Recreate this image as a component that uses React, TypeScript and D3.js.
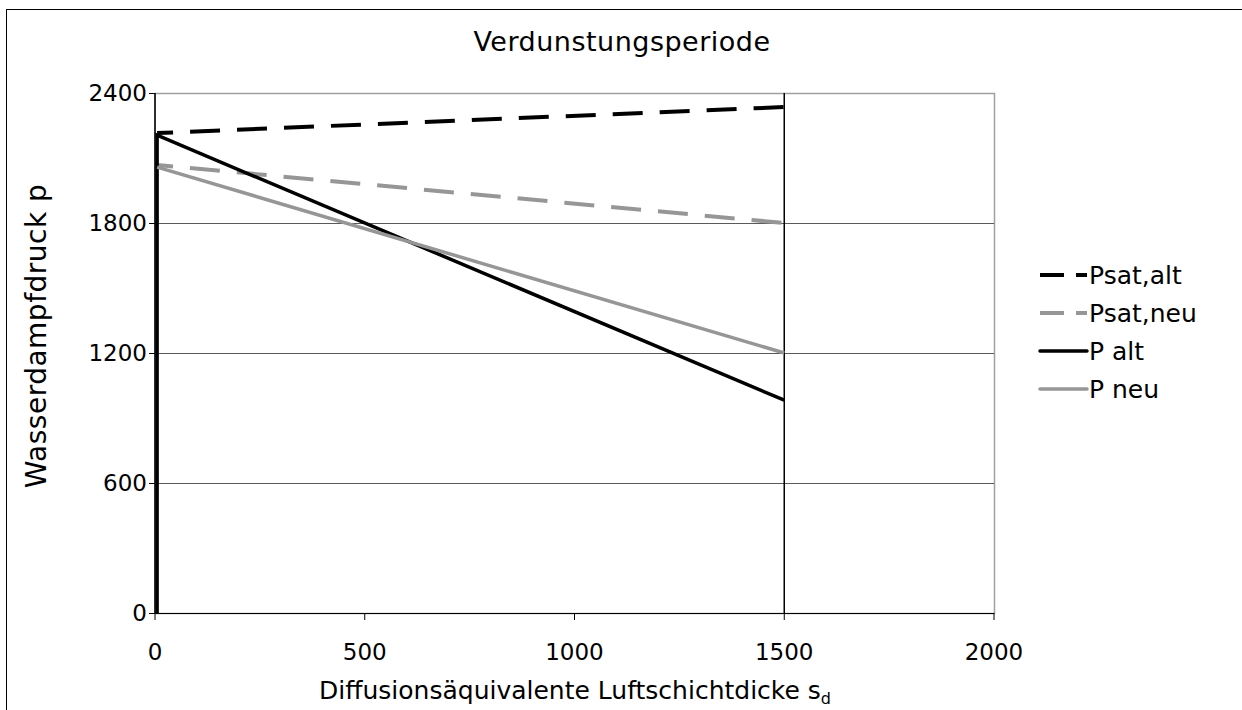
import React from "react";
import * as d3 from "d3";

// ---- data ----
const xTicks = [0, 500, 1000, 1500, 2000];
const yTicks = [0, 600, 1200, 1800, 2400];
const layerBoundary = [1500];

const psatAltX = [5, 1500];
const psatAltY = [2215, 2335];
const psatNeuX = [5, 1500];
const psatNeuY = [2068, 1800];
const pAltX = [5, 5, 1500];
const pAltY = [0, 2205, 982];
const pNeuX = [5, 1500];
const pNeuY = [2058, 1200];

const seriesNames = ["Psat,alt", "Psat,neu", "P alt", "P neu"];

const W = 1242;
const H = 710;
const FONT = "'DejaVu Sans', Verdana, sans-serif";

export default function App() {
  const x = d3.scaleLinear().domain([0, 2000]).range([155, 994]);
  const y = d3.scaleLinear().domain([0, 2400]).range([613, 93]);

  const series = [
    { name: seriesNames[0], xs: psatAltX, ys: psatAltY, color: "#000000", dash: "30 17", width: 4 },
    { name: seriesNames[1], xs: psatNeuX, ys: psatNeuY, color: "#969696", dash: "30 17", width: 4 },
    { name: seriesNames[2], xs: pAltX, ys: pAltY, color: "#000000", dash: undefined, width: 3.5 },
    { name: seriesNames[3], xs: pNeuX, ys: pNeuY, color: "#969696", dash: undefined, width: 3.5 },
  ];

  const line = d3
    .line<[number, number]>()
    .x((d) => x(d[0]))
    .y((d) => y(d[1]));

  const legendX = 1040;
  const legendY0 = 275;
  const legendStep = 38;

  return (
    <svg width={W} height={H} style={{ position: "absolute", left: 0, top: 0, background: "#fff" }}>
      <rect x={0} y={0} width={W} height={H} fill="#fff" />
      {/* outer chart border */}
      <rect x={6.5} y={9.5} width={1400} height={900} fill="none" stroke="#000" strokeWidth={1} />

      {/* plot area border */}
      <rect x={x(0)} y={y(2400) + 0.5} width={x(2000) - x(0) + 0.5} height={y(0) - y(2400)} fill="none" stroke="#a0a0a0" strokeWidth={1.5} />

      {/* horizontal gridlines */}
      {yTicks
        .filter((t) => t > 0 && t < 2400)
        .map((t) => (
          <line key={"g" + t} x1={x(0)} x2={x(2000)} y1={y(t) + 0.5} y2={y(t) + 0.5} stroke="#5a5a5a" strokeWidth={1} />
        ))}

      {/* layer boundary */}
      {layerBoundary.map((b) => (
        <line key={"b" + b} x1={x(b)} x2={x(b)} y1={y(2400)} y2={y(0)} stroke="#000" strokeWidth={1.5} />
      ))}

      {/* axes */}
      <line x1={x(0)} x2={x(0)} y1={y(2400)} y2={y(0)} stroke="#000" strokeWidth={1.5} />
      <line x1={x(0)} x2={x(2000)} y1={y(0) + 0.5} y2={y(0) + 0.5} stroke="#000" strokeWidth={1.2} />
      {yTicks.map((t) => (
        <g key={"yt" + t}>
          <line x1={x(0) - 6} x2={x(0)} y1={y(t) + 0.5} y2={y(t) + 0.5} stroke="#000" strokeWidth={1} />
          <text x={x(0) - 8} y={y(t)} dy="0.36em" textAnchor="end" fontFamily={FONT} fontSize={23} fill="#000">
            {t}
          </text>
        </g>
      ))}
      {xTicks.map((t) => (
        <g key={"xt" + t}>
          <line x1={x(t)} x2={x(t)} y1={y(0)} y2={y(0) + 7} stroke="#000" strokeWidth={1} />
          <text x={x(t)} y={y(0) + 47} textAnchor="middle" fontFamily={FONT} fontSize={23} fill="#000">
            {t}
          </text>
        </g>
      ))}

      {/* series */}
      {series.map((s) => (
        <path
          key={s.name}
          d={line(s.xs.map((v, i) => [v, s.ys[i]] as [number, number])) || ""}
          fill="none"
          stroke={s.color}
          strokeWidth={s.width}
          strokeDasharray={s.dash}
          strokeDashoffset={s.dash ? 14 : undefined}
        />
      ))}

      {/* title */}
      <text x={622} y={51} textAnchor="middle" fontFamily={FONT} fontSize={27} letterSpacing={0.5} fill="#000">
        Verdunstungsperiode
      </text>

      {/* axis titles */}
      <text x={575} y={699} textAnchor="middle" fontFamily={FONT} fontSize={25} fill="#000">
        Diffusionsäquivalente Luftschichtdicke s
        <tspan fontSize={16} dy={5}>d</tspan>
      </text>
      <text
        transform={`translate(46, 336) rotate(-90)`}
        textAnchor="middle"
        fontFamily={FONT}
        fontSize={28}
        letterSpacing={0.5}
        fill="#000"
      >
        Wasserdampfdruck p
      </text>

      {/* legend */}
      {series.map((s, i) => {
        const ly = legendY0 + i * legendStep;
        return (
          <g key={"lg" + s.name}>
            {s.dash ? (
              <>
                <line x1={legendX} x2={legendX + 24} y1={ly} y2={ly} stroke={s.color} strokeWidth={s.width} />
                <line x1={legendX + 36} x2={legendX + 47} y1={ly} y2={ly} stroke={s.color} strokeWidth={s.width} />
              </>
            ) : (
              <line x1={legendX} x2={legendX + 47} y1={ly} y2={ly} stroke={s.color} strokeWidth={s.width} strokeLinecap="round" />
            )}
            <text x={legendX + 49} y={ly} dy="0.36em" fontFamily={FONT} fontSize={25} fill="#000">
              {s.name}
            </text>
          </g>
        );
      })}
    </svg>
  );
}
